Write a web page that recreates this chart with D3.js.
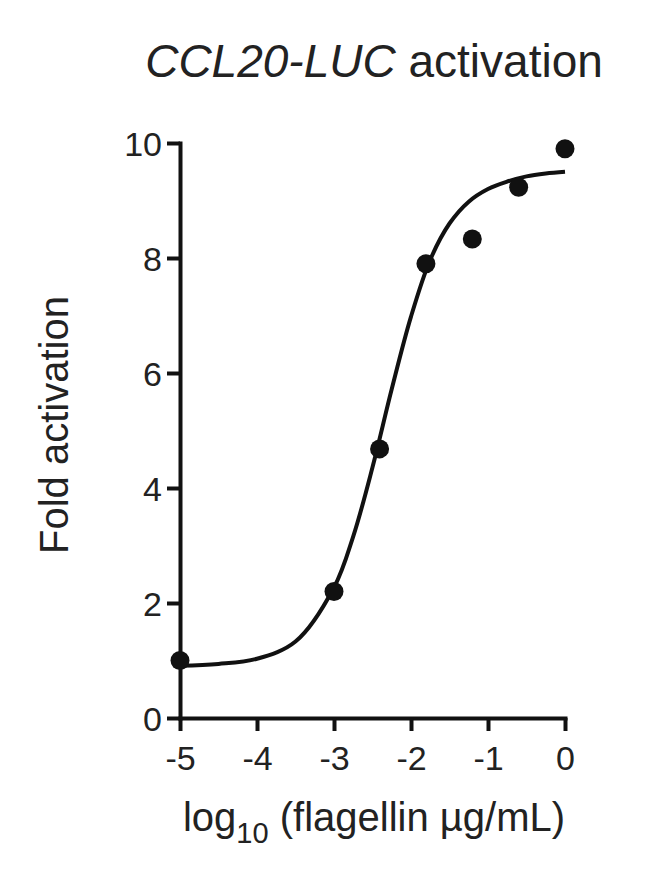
<!DOCTYPE html>
<html>
<head>
<meta charset="utf-8">
<script src="https://cdn.jsdelivr.net/npm/d3@7"></script>
<style>
  html, body { margin: 0; padding: 0; background: #fff; }
  svg { display: block; font-family: "Liberation Sans", Arial, Helvetica, sans-serif; }
</style>
</head>
<body>
<svg id="chart" width="650" height="896"></svg>
<script>
// Measured points: log10 flagellin concentration vs fold activation
const logConc = [-5, -3, -2.408, -1.806, -1.204, -0.602, 0];
const foldActivation = [1.0, 2.2, 4.68, 7.9, 8.33, 9.23, 9.9];

// Fitted dose-response curve
const curveX = [-5, -4.5, -4, -3.5, -3, -2.75, -2.5, -2.25, -2, -1.75, -1.5, -1.25, -1, -0.75, -0.5, -0.25, 0];
const curveY = [0.91, 0.94, 1.03, 1.33, 2.27, 3.16, 4.36, 5.72, 6.98, 7.97, 8.6, 8.98, 9.2, 9.33, 9.42, 9.47, 9.5];

const xTicks = [-5, -4, -3, -2, -1, 0];
const yTicks = [0, 2, 4, 6, 8, 10];

const titleItalic = "CCL20-LUC";
const titleRest = " activation";
const yLabel = "Fold activation";

const svg = d3.select("#chart");
const mLeft = 180, mRight = 565, mTop = 143, mBottom = 718;

const x = d3.scaleLinear().domain([-5, 0]).range([mLeft, mRight]);
const y = d3.scaleLinear().domain([0, 10]).range([mBottom, mTop]);

const stroke = 4;

// Axes
const xAxis = svg.append("g")
  .attr("transform", `translate(0,${mBottom})`)
  .call(d3.axisBottom(x).tickValues(xTicks).tickSize(13).tickSizeOuter(0).tickPadding(8).tickFormat(d => d === 0 ? "0" : "-" + Math.abs(d)));
const yAxis = svg.append("g")
  .attr("transform", `translate(${mLeft},0)`)
  .call(d3.axisLeft(y).tickValues(yTicks).tickSize(13).tickSizeOuter(0).tickPadding(5));

[xAxis, yAxis].forEach(g => {
  g.selectAll("path.domain").attr("stroke", "#111").attr("stroke-width", stroke).attr("stroke-linecap", "square");
  g.selectAll(".tick line").attr("stroke", "#111").attr("stroke-width", stroke);
  g.selectAll(".tick text").attr("fill", "#222").style("font-size", "34px").style("font-family", "'Liberation Sans', Arial, sans-serif");
});
xAxis.selectAll(".tick text").attr("dy", "0.9em");
yAxis.selectAll(".tick text").attr("dy", "0.36em");

// Curve
const pts = curveX.map((v, i) => [v, curveY[i]]);
svg.append("path")
  .datum(pts)
  .attr("fill", "none")
  .attr("stroke", "#111")
  .attr("stroke-width", stroke)
  .attr("d", d3.line().x(d => x(d[0])).y(d => y(d[1])).curve(d3.curveCatmullRom.alpha(0.5)));

// Dots
svg.append("g").selectAll("circle")
  .data(logConc.map((v, i) => [v, foldActivation[i]]))
  .join("circle")
  .attr("cx", d => x(d[0]))
  .attr("cy", d => y(d[1]))
  .attr("r", 9.5)
  .attr("fill", "#111");

// Title
const title = svg.append("text")
  .attr("x", 374).attr("y", 77)
  .attr("text-anchor", "middle")
  .attr("fill", "#222")
  .style("font-size", "46px");
title.append("tspan").attr("font-style", "italic").text(titleItalic);
title.append("tspan").text(titleRest);

// X label
const xl = svg.append("text")
  .attr("x", 374).attr("y", 831)
  .attr("text-anchor", "middle")
  .attr("fill", "#222")
  .style("font-size", "40px");
xl.append("tspan").text("log");
xl.append("tspan").attr("font-size", "29px").attr("dy", 12).text("10");
xl.append("tspan").attr("dy", -12).text(" (flagellin µg/mL)");

// Y label
svg.append("text")
  .attr("transform", `translate(68,425) rotate(-90)`)
  .attr("text-anchor", "middle")
  .attr("fill", "#222")
  .style("font-size", "40px")
  .text(yLabel);
</script>
</body>
</html>
